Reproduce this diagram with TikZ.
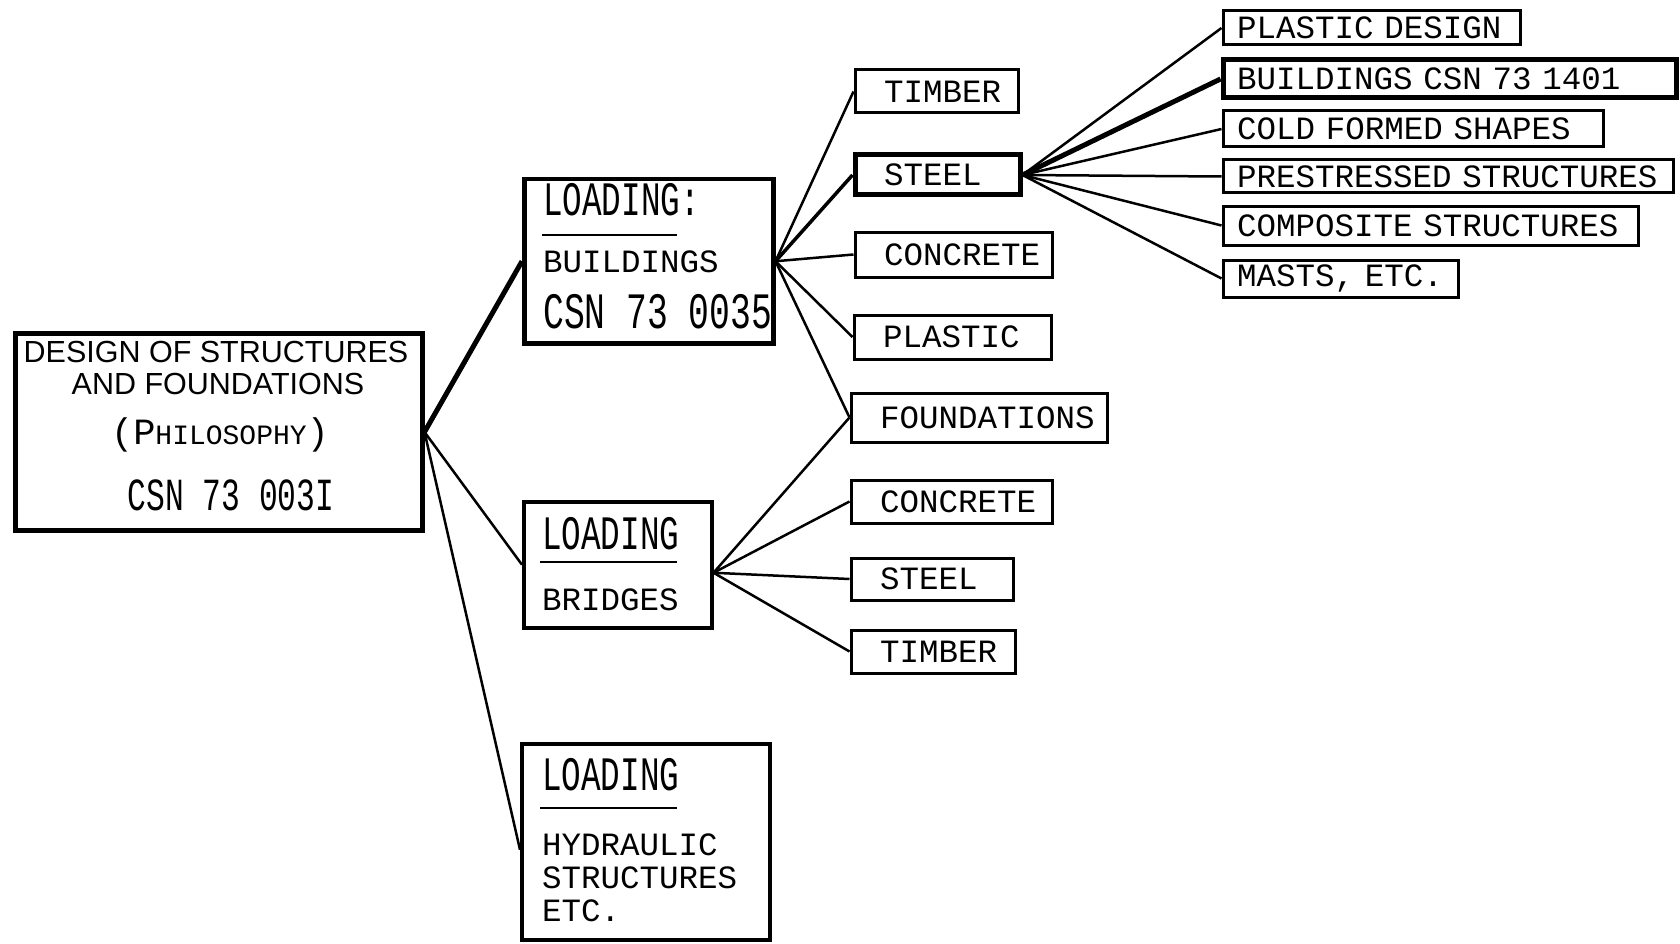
\documentclass[tikz,border=0pt]{standalone}
\usepackage{fontspec}
\setmainfont{Liberation Sans}
\newfontfamily\typefont{Liberation Mono}
\newfontfamily\tallfont{Liberation Mono}[FakeStretch=0.68]
\usepackage{tikz}
\usetikzlibrary{positioning}

\begin{document}
\begin{tikzpicture}[x=1pt, y=-1pt,
  panel/.style={draw, line width=3.5pt, anchor=north west, inner sep=0pt},
  item/.style={draw, line width=3pt, anchor=north west, inner xsep=29pt, inner ysep=0pt, align=left, font=\typefont\fontsize{32.5}{36}\selectfont},
  sub/.style={item, inner xsep=14pt},
  txt/.style={inner sep=0pt, anchor=base west, font=\typefont\fontsize{32.5}{36}\selectfont},
  tall/.style={inner sep=0pt, anchor=base west, font=\tallfont\fontsize{48}{52}\selectfont},
  head/.style={inner sep=0pt, anchor=base, font=\fontsize{30.5}{34}\selectfont},
  link/.style={line width=2.5pt},
  heavy/.style={line width=5pt},
  bar/.style={line width=2pt},
]
\useasboundingbox (0,0) rectangle (1680,944);

% main box
\node[panel, line width=5pt, minimum width=407pt, minimum height=197pt] (main) at (12.5,331) {};
\node[head] (m1) at (216,362) {DESIGN OF STRUCTURES};
\node[head] (m2) at (218,394) {AND FOUNDATIONS};
\node[head, font=\typefont\fontsize{37}{40}\selectfont] (m3) at (220,444) {(P\fontsize{28}{30}\selectfont HILOSOPHY\fontsize{37}{40}\selectfont)};
\node[head, font=\tallfont\fontsize{46}{50}\selectfont] (m4) at (231,510) {CSN 73 003I};

% loading boxes
\node[panel, line width=4.5pt, minimum width=249pt, minimum height=164pt] (bld) at (522,177) {};
\node[tall] (b1) at (543,215) {LOADING:};
\draw[bar] (542,235) -- (677,235);
\node[txt] (b2) at (543,272) {BUILDINGS};
\node[tall, font=\tallfont\fontsize{51}{55}\selectfont] (b3) at (543,328) {CSN 73 0035};

\node[panel, minimum width=188pt, minimum height=126pt] (brg) at (522,500) {};
\node[tall] (r1) at (542,549) {LOADING};
\draw[bar] (540,562) -- (677,562);
\node[txt] (r2) at (542,610) {BRIDGES};

\node[panel, minimum width=248pt, minimum height=196pt] (hyd) at (520,742) {};
\node[tall] (h1) at (542,790) {LOADING};
\draw[bar] (540,808) -- (677,808);
\node[txt] (h2) at (542,855) {HYDRAULIC};
\node[txt] (h3) at (542,888) {STRUCTURES};
\node[txt] (h4) at (542,921) {ETC.};

% materials
\node[item, text width=105pt, minimum height=43pt] (timA) at (853.5,68.5) {TIMBER};
\node[item, line width=5pt, text width=107pt, minimum height=40pt] (stA) at (852.5,152.5) {STEEL};
\node[item, text width=139pt, minimum height=45pt] (conA) at (853.5,230.5) {CONCRETE};
\node[item, text width=139pt, minimum height=44pt] (plA) at (852.5,313.5) {PLASTIC};
\node[item, text width=198pt, minimum height=49pt] (fnd) at (849.5,391.5) {FOUNDATIONS};
\node[item, text width=143pt, minimum height=43pt] (conB) at (849.5,478.5) {CONCRETE};
\node[item, text width=104pt, minimum height=42pt] (stB) at (849.5,556.5) {STEEL};
\node[item, text width=106pt, minimum height=43pt] (timB) at (849.5,628.5) {TIMBER};

% steel codes
\node[sub, text width=269pt, minimum height=34pt] (pd) at (1221.5,9.5) {PLASTIC DESIGN};
\node[sub, line width=5pt, text width=425pt, minimum height=38pt] (bc) at (1220.5,57.5) {BUILDINGS CSN 73 1401};
\node[sub, text width=352pt, minimum height=36pt] (cf) at (1221.5,109.5) {COLD FORMED SHAPES};
\node[sub, text width=422pt, minimum height=33pt] (ps) at (1221.5,158.5) {PRESTRESSED STRUCTURES};
\node[sub, text width=387pt, minimum height=39pt] (cs) at (1221.5,204.5) {COMPOSITE STRUCTURES};
\node[sub, text width=207pt, minimum height=37pt] (ma) at (1221.5,258.5) {MASTS, ETC.};

\draw[heavy] (main.east) -- (bld.west);
\draw[link] (main.east) -- (brg.west);
\draw[link] (main.east) -- ([yshift=-8pt]hyd.west);

\draw[link] (bld.east) -- (timA.west);
\draw[link, line width=3.5pt] (bld.east) -- (stA.west);
\draw[link] (bld.east) -- (conA.west);
\draw[link] (bld.east) -- (plA.west);
\draw[link] (bld.east) -- (fnd.west);

\draw[link] ([yshift=-8pt]brg.east) -- (fnd.west);
\draw[link] ([yshift=-8pt]brg.east) -- (conB.west);
\draw[link] ([yshift=-8pt]brg.east) -- (stB.west);
\draw[link] ([yshift=-8pt]brg.east) -- (timB.west);

\draw[link] (stA.east) -- (pd.west);
\draw[heavy] (stA.east) -- (bc.west);
\draw[link] (stA.east) -- (cf.west);
\draw[link] (stA.east) -- (ps.west);
\draw[link] (stA.east) -- (cs.west);
\draw[link] (stA.east) -- (ma.west);
\end{tikzpicture}
\end{document}
